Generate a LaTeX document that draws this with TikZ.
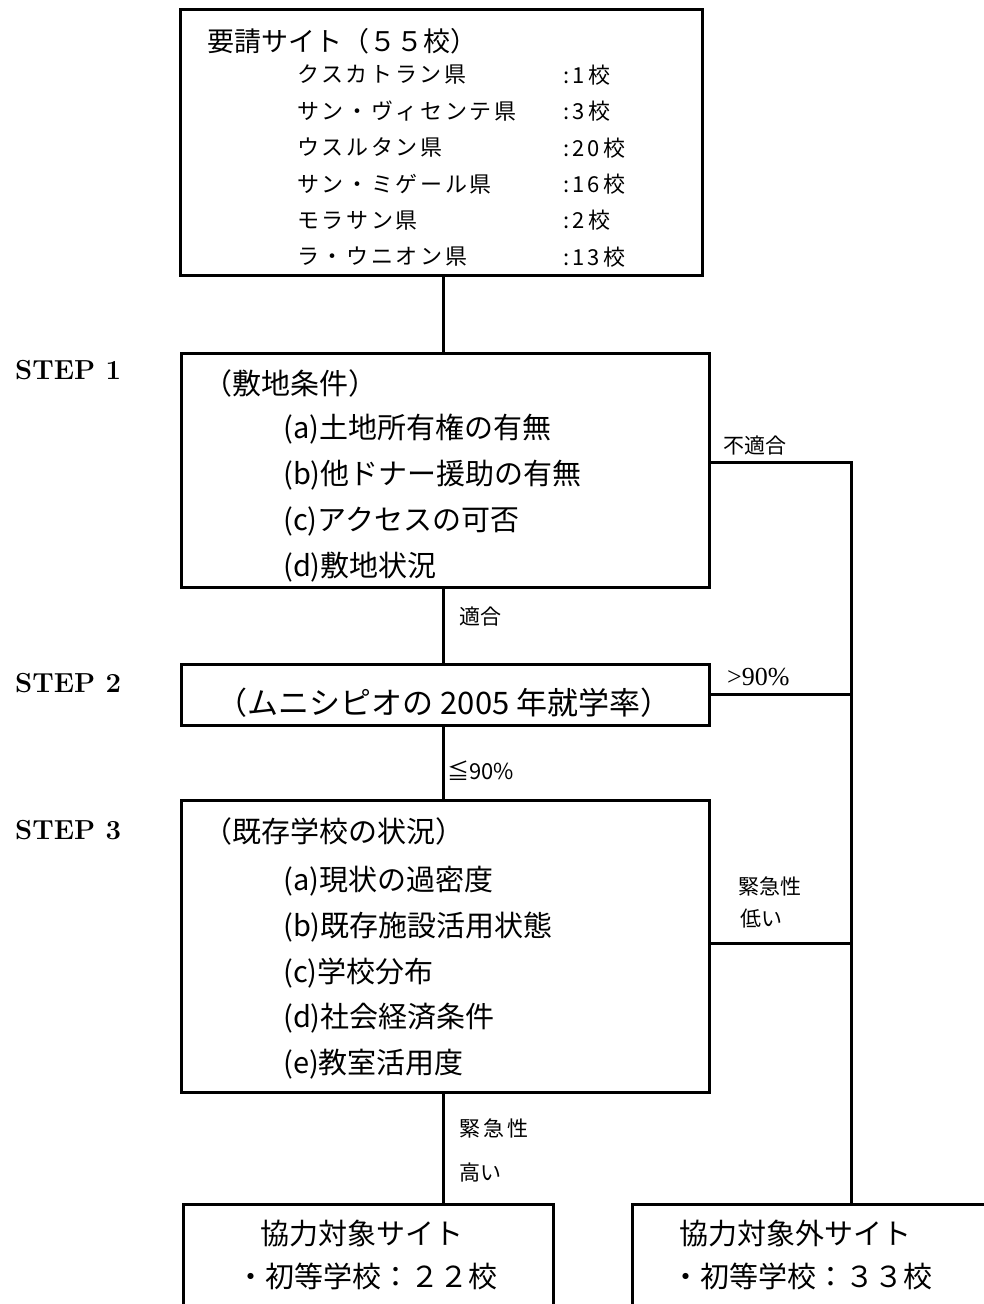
\documentclass[tikz,border=0pt]{standalone}
\usepackage{fontspec}
\newfontfamily\jp{Noto Sans CJK JP}
\newfontfamily\jpsp[LetterSpace=12]{Noto Sans CJK JP}
\newfontfamily\serx{Liberation Serif}
\begin{document}
\begin{tikzpicture}[x=1pt,y=-1pt,
  box/.style={draw, line width=3pt, rectangle, inner sep=0pt},
  conn/.style={draw, line width=3pt},
  ttl/.style={font=\jp\fontsize{27}{30}\selectfont, inner sep=0pt, anchor=west},
  listtxt/.style={font=\jpsp\fontsize{22}{26}\selectfont, inner sep=0pt, anchor=west},
  itm/.style={font=\jp\fontsize{29}{32}\selectfont, inner sep=0pt, anchor=west},
  ctr/.style={font=\jp\fontsize{29}{32}\selectfont, inner sep=0pt},
  lbl/.style={font=\jp\fontsize{21}{24}\selectfont, inner sep=0pt, anchor=west},
  steplbl/.style={font=\bfseries\fontsize{27.5}{30}\selectfont, inner sep=0pt, anchor=west}]
\useasboundingbox (0,0) rectangle (983,1304);
\fill[white] (0,0) rectangle (983,1304);

% boxes
\node[box, minimum width=522pt, minimum height=266pt] (req) at (441,142) {};
\node[box, minimum width=528pt, minimum height=234pt] (s1) at (445,470) {};
\node[box, minimum width=528pt, minimum height=61pt] (s2) at (445,694.5) {};
\node[box, minimum width=528pt, minimum height=292pt] (s3) at (445,946) {};
\node[box, minimum width=370pt, minimum height=136pt] (yes) at (368,1272) {};
\node[box, minimum width=388pt, minimum height=136pt] (no) at (826,1272) {};

% top box text
\node[ttl] (reqt) at (207,41) {要請サイト（５５校）};
\foreach \n/\v [count=\i from 0] in {クスカトラン県/1, サン・ヴィセンテ県/3, ウスルタン県/20, サン・ミゲール県/16, モラサン県/2, ラ・ウニオン県/13}{
  \node[listtxt] (rn\i) at (297,{75+36.4*\i}) {\n};
  \node[listtxt] (rv\i) at (563,{75+36.4*\i}) {:\,\v\,校};
}

% step labels
\node[steplbl] (st1) at (15,370) {STEP 1};
\node[steplbl] (st2) at (15,683) {STEP 2};
\node[steplbl] (st3) at (15,830) {STEP 3};

% step 1 text
\node[itm] (s1t) at (203,383) {（敷地条件）};
\node[itm] (s1a) at (283,429) {(a)土地所有権の有無};
\node[itm] (s1b) at (283,475) {(b)他ドナー援助の有無};
\node[itm] (s1c) at (283,521) {(c)アクセスの可否};
\node[itm] (s1d) at (283,567) {(d)敷地状況};

% step 2 text
\node[ctr, font=\jp\fontsize{31}{34}\selectfont] (s2t) at (444,703) {（ムニシピオの 2005 年就学率）};

% step 3 text
\node[itm] (s3t) at (203,831) {（既存学校の状況）};
\node[itm] (s3a) at (283,881) {(a)現状の過密度};
\node[itm] (s3b) at (283,927) {(b)既存施設活用状態};
\node[itm] (s3c) at (283,973) {(c)学校分布};
\node[itm] (s3d) at (283,1018) {(d)社会経済条件};
\node[itm] (s3e) at (283,1064) {(e)教室活用度};

% bottom boxes text
\node[ctr] (yest) at (362,1233) {協力対象サイト};
\node[ctr] (yesn) at (367,1276) {・初等学校：２２校};
\node[ctr] (not) at (795,1233) {協力対象外サイト};
\node[ctr] (non) at (802,1276) {・初等学校：３３校};

% connectors
\coordinate (cx) at (443,0);
\coordinate (rt) at (851,462);
\draw[conn] (req.south -| cx) -- (s1.north -| cx);
\draw[conn] (s1.south -| cx) -- (s2.north -| cx);
\draw[conn] (s2.south -| cx) -- (s3.north -| cx);
\draw[conn] (s3.south -| cx) -- (yes.north -| cx);
\draw[conn] (s1.east |- rt) -- (rt) -- (rt |- no.north);
\draw[conn] (s2.east) -- (rt |- s2.east);
\coordinate (r3) at (851,943);
\draw[conn] (s3.east |- r3) -- (r3);

% connector labels
\node[lbl] (l1) at (723,446) {不適合};
\node[lbl] (l2) at (459,617) {適合};
\node[lbl, font=\serx\fontsize{26}{28}\selectfont] (l3) at (727,677) {>90\%};
\node[lbl, font=\jp\fontsize{22}{24}\selectfont] (l4) at (447,771) {≦90\%};
\node[lbl] (l5) at (738,886) {緊急性};
\node[lbl] (l6) at (740,919) {低い};
\node[lbl] (l7) at (459,1128) {緊\hspace{3pt}急\hspace{3pt}性};
\node[lbl] (l8) at (459,1172) {高い};
\end{tikzpicture}
\end{document}
